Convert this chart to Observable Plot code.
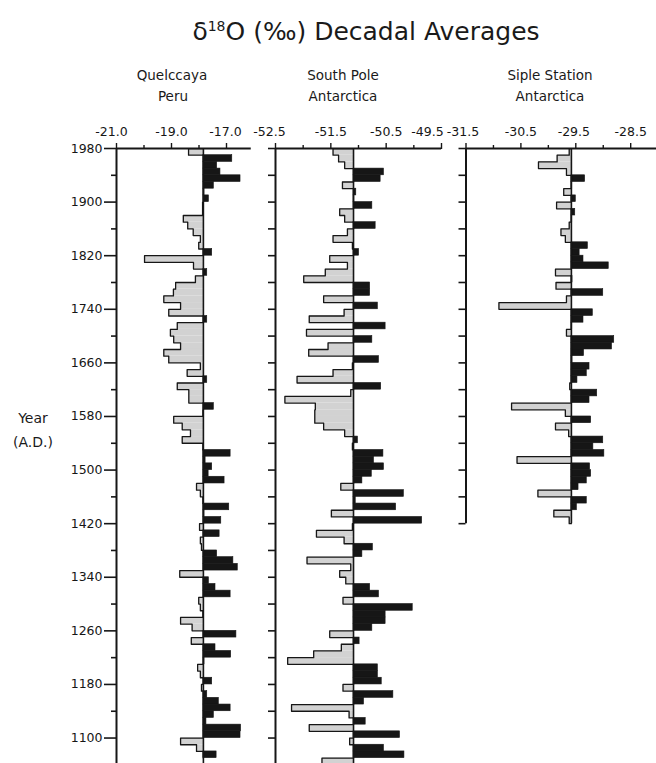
<!DOCTYPE html>
<html><head><meta charset="utf-8">
<script src="https://cdn.jsdelivr.net/npm/d3@7"></script>
<script src="https://cdn.jsdelivr.net/npm/@observablehq/plot@0.6"></script>
<style>
body{margin:0;background:#fff;}
#wrap{position:relative;width:656px;height:763px;overflow:hidden;font-family:"DejaVu Sans",sans-serif;color:#1a1a1a;}
#wrap svg{position:absolute;left:0;top:0;}
.t{position:absolute;text-align:center;white-space:nowrap;line-height:1;}
</style></head><body>
<div id="wrap">
<div class="t" style="left:38px;width:656px;top:19px;font-size:25px;">δ<sup style="font-size:14px;vertical-align:9px;">18</sup>O (‰) Decadal Averages</div>
<div class="t" style="left:72px;width:200px;top:69px;font-size:13.5px;">Quelccaya</div>
<div class="t" style="left:73px;width:200px;top:90px;font-size:13.5px;">Peru</div>
<div class="t" style="left:243px;width:200px;top:69px;font-size:13.5px;">South Pole</div>
<div class="t" style="left:243px;width:200px;top:90px;font-size:13.5px;">Antarctica</div>
<div class="t" style="left:450px;width:200px;top:69px;font-size:13.5px;">Siple Station</div>
<div class="t" style="left:450px;width:200px;top:90px;font-size:13.5px;">Antarctica</div>
<div class="t" style="left:0px;width:66px;top:411px;font-size:14px;">Year</div>
<div class="t" style="left:0px;width:66px;top:435px;font-size:14px;">(A.D.)</div>
</div>
<script>
const decades = [1970,1960,1950,1940,1930,1920,1910,1900,
1890,1880,1870,1860,1850,1840,1830,1820,1810,1800,
1790,1780,1770,1760,1750,1740,1730,1720,1710,1700,
1690,1680,1670,1660,1650,1640,1630,1620,1610,1600,
1590,1580,1570,1560,1550,1540,1530,1520,1510,1500,
1490,1480,1470,1460,1450,1440,1430,1420,1410,1400,
1390,1380,1370,1360,1350,1340,1330,1320,1310,1300,
1290,1280,1270,1260,1250,1240,1230,1220,1210,1200,
1190,1180,1170,1160,1150,1140,1130,1120,1110,1100,
1090,1080,1070,1060];

const quelccaya = [-18.38,-16.79,-17.34,-17.22,-16.49,-17.46,-17.80,-17.64,
-17.87,-17.87,-18.57,-18.41,-18.21,-17.95,-18.01,-17.52,-19.98,-18.20,
-17.70,-18.13,-18.85,-18.93,-19.28,-18.67,-19.10,-17.70,-18.79,-19.04,
-18.92,-18.67,-19.28,-19.10,-17.95,-18.43,-17.70,-18.79,-18.37,-18.37,
-17.46,-17.86,-18.92,-18.61,-18.31,-18.61,-17.86,-16.85,-17.76,-17.52,
-17.65,-17.07,-18.09,-17.95,-17.86,-16.90,-17.80,-17.19,-17.98,-17.25,
-17.95,-17.91,-17.34,-16.75,-16.59,-18.70,-17.64,-17.40,-16.85,-18.01,
-17.95,-17.86,-18.67,-18.25,-16.64,-18.28,-17.40,-16.83,-17.80,-18.05,
-17.95,-17.52,-17.91,-17.70,-17.28,-16.85,-17.46,-17.73,-16.47,-16.49,
-18.67,-18.09,-17.36];

const southPole = [-51.46,-51.36,-51.25,-50.54,-50.60,-51.29,-51.04,-51.08,
-50.75,-51.34,-51.25,-50.69,-51.20,-51.46,-51.11,-50.99,-51.52,-51.20,
-51.60,-51.99,-50.79,-50.79,-51.63,-50.65,-51.26,-51.89,-50.51,-51.94,
-50.75,-51.55,-51.90,-50.63,-51.11,-51.46,-52.11,-50.59,-51.14,-52.33,
-51.78,-51.79,-51.79,-51.63,-51.25,-51.01,-51.11,-50.55,-50.72,-50.54,
-50.76,-50.93,-51.32,-50.18,-51.05,-50.32,-51.49,-49.85,-51.11,-51.76,
-51.26,-50.74,-50.93,-51.93,-51.14,-51.34,-51.23,-50.79,-50.63,-51.28,
-50.02,-50.51,-50.51,-50.75,-51.52,-50.98,-51.31,-51.81,-52.28,-50.65,
-50.65,-50.58,-51.28,-50.37,-50.90,-52.21,-51.17,-50.87,-51.89,-50.25,
-51.16,-50.54,-50.17,-51.66];

const siple = [-29.62,-29.84,-30.18,-29.67,-29.33,-29.57,-29.72,-29.50,
-29.85,-29.51,-29.57,-29.62,-29.77,-29.69,-29.28,-29.43,-29.36,-28.90,
-29.87,-29.56,-29.86,-29.00,-29.67,-30.90,-29.19,-29.36,-29.57,-29.67,
-28.80,-28.84,-29.35,-29.56,-29.25,-29.30,-29.47,-29.61,-29.11,-29.25,
-30.67,-29.69,-29.22,-29.87,-29.63,-29.00,-29.18,-28.98,-30.57,-29.24,
-29.22,-29.30,-29.45,-30.19,-29.30,-29.48,-29.90,-29.62];

const means = {quelccaya: -17.84, southPole: -51.09, siple: -29.58};

const yearMajor = [1980,1900,1820,1740,1660,1580,1500,1420,1340,1260,1180,1100];
const yearMinor = [1940,1860,1780,1700,1620,1540,1460,1380,1300,1220,1140];

const qTicksLabel = [-21, -19, -17];
const qTicksMinor = [-20, -18];
const spTicksLabel = [-52.5, -51.5, -50.5, -49.5];
const spTicksMinor = [-52, -51, -50];
const siTicksLabel = [-31.5, -30.5, -29.5, -28.5];
const siTicksMinor = [-31, -30, -29];

const W = 656, H = 763, TOP = 148, Y0 = 1062, Y1 = 1980;
const ink = "#161616";
const fmt = d => d.toFixed(1);

const panels = [
  {values: quelccaya, mean: means.quelccaya, domain: [-21, -16.1], x0: 116, x1: 250.75,
   labels: qTicksLabel, minor: qTicksMinor, shifts: [-5, 0, -1], axisBottom: Y0, yLabels: true},
  {values: southPole, mean: means.southPole, domain: [-52.5, -49.5], x0: 275, x1: 441,
   labels: spTicksLabel, minor: spTicksMinor, shifts: [-6, 0, 0, -14], axisBottom: Y0, yLabels: false},
  {values: siple, mean: means.siple, domain: [-31.5, -28.03], x0: 465.5, x1: 656,
   labels: siTicksLabel, minor: siTicksMinor, shifts: [-3, 0, -2, 0], axisBottom: 1420, yLabels: false}
];

function panel(cfg) {
  const rows = cfg.values.map((v, i) => ({d: decades[i], v}));
  const m = cfg.mean;
  const neg = rows.filter(r => r.v < m);
  const pos = rows.filter(r => r.v >= m);
  const pts = [{x: m, y: 1980}];
  rows.forEach(r => { const x = Math.min(r.v, m); pts.push({x, y: r.d + 10}, {x, y: r.d}); });
  pts.push({x: m, y: rows[rows.length - 1].d});
  const maj = yearMajor.filter(y => y >= cfg.axisBottom);
  const mnr = yearMinor.filter(y => y >= cfg.axisBottom);
  const baseBottom = cfg.axisBottom === 1420 ? 1420 : Y0;
  const labelMarks = cfg.labels.map((t, i) =>
    Plot.axisX({anchor: "top", ticks: [t], tickSize: 0, tickPadding: 13, tickFormat: fmt, fontSize: 12.5, dx: cfg.shifts[i]}));
  return Plot.plot({
    width: W, height: H,
    marginTop: TOP, marginBottom: 0, marginLeft: cfg.x0, marginRight: W - cfg.x1,
    x: {domain: cfg.domain, axis: null},
    y: {domain: [Y0, Y1], axis: null},
    style: {background: "transparent", overflow: "visible", fontFamily: "DejaVu Sans, sans-serif", color: ink},
    marks: [
      Plot.rect(neg, {x1: m, x2: "v", y1: "d", y2: r => r.d + 10, fill: "#d2d2d2", clip: true}),
      Plot.rect(pos, {x1: m, x2: "v", y1: "d", y2: r => r.d + 10, fill: ink, stroke: ink, strokeWidth: 0.6, clip: true}),
      Plot.line(pts, {x: "x", y: "y", stroke: ink, strokeWidth: 1.3, clip: true}),
      Plot.ruleX([m], {y1: baseBottom, y2: Y1, stroke: ink, strokeWidth: 1.6}),
      Plot.ruleX([cfg.domain[0]], {y1: cfg.axisBottom, y2: Y1, stroke: ink, strokeWidth: 2}),
      Plot.ruleY([Y1], {stroke: ink, strokeWidth: 2}),
      Plot.axisX({anchor: "top", ticks: cfg.minor, tickSize: 4, tickFormat: () => "", strokeWidth: 1.4}),
      Plot.axisX({anchor: "top", ticks: cfg.labels, tickSize: 6, tickFormat: () => "", strokeWidth: 1.4}),
      ...labelMarks,
      Plot.axisY({anchor: "left", ticks: maj, tickSize: cfg.yLabels ? 12 : 7, tickPadding: 2, strokeWidth: 1.6,
                  tickFormat: cfg.yLabels ? (d => String(d)) : (() => ""), fontSize: 12.5}),
      Plot.axisY({anchor: "left", ticks: mnr, tickSize: cfg.yLabels ? 5 : 7, strokeWidth: 1.6, tickFormat: () => ""})
    ]
  });
}

const wrap = document.getElementById("wrap");
panels.forEach(p => wrap.appendChild(panel(p)));
</script>
</body></html>
